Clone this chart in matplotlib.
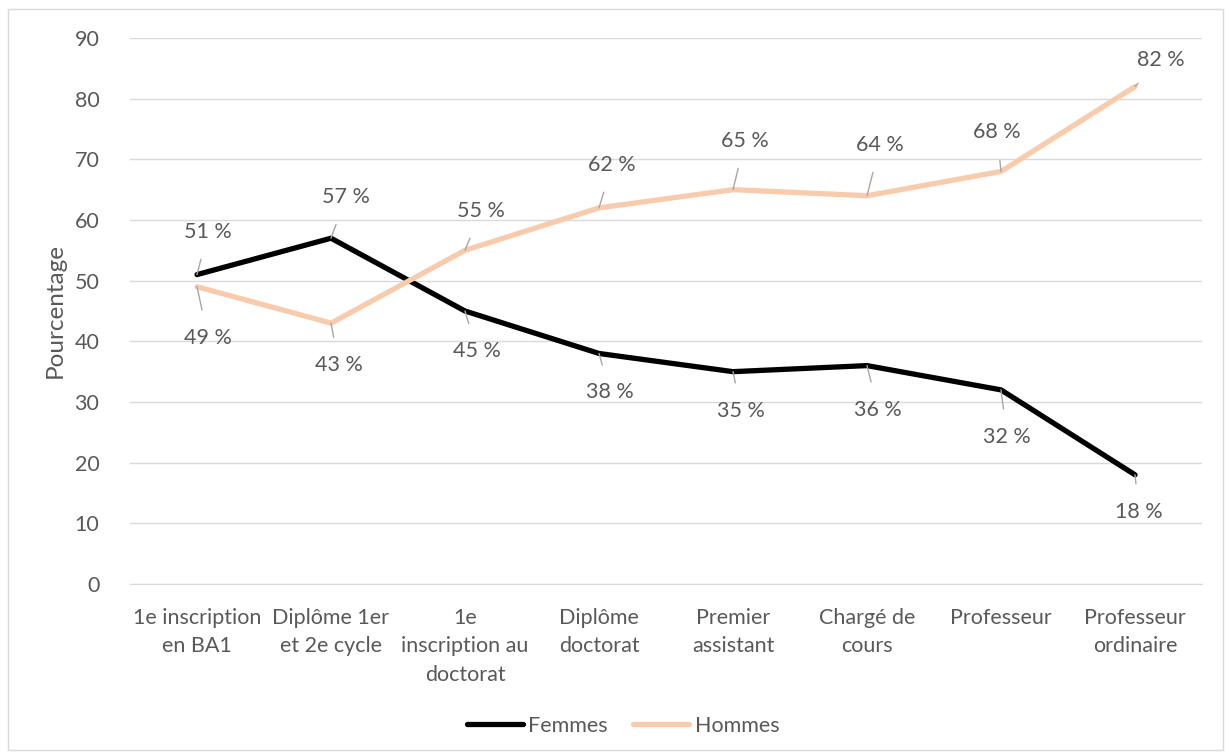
import matplotlib
matplotlib.use("Agg")
import matplotlib.pyplot as plt
from matplotlib.patches import Rectangle

categories = ["1e inscription\nen BA1", "Diplôme 1er\net 2e cycle", "1e\ninscription au\ndoctorat",
              "Diplôme\ndoctorat", "Premier\nassistant", "Chargé de\ncours", "Professeur",
              "Professeur\nordinaire"]
femmes = [51, 57, 45, 38, 35, 36, 32, 18]
hommes = [49, 43, 55, 62, 65, 64, 68, 82]
yticks = [0, 10, 20, 30, 40, 50, 60, 70, 80, 90]

# label offsets (pixels) relative to each point
femmes_off = [(11, 43), (15, 41), (12, -40), (11, -39), (8, -39), (11, -44), (6, -47), (4, -37)]
hommes_off = [(11, -51), (8, -42), (16, 39), (13, 43), (12, 49), (13, 51), (-4, 39), (26, 27)]

TXT = "#595959"
FS = 15.5
plt.rcParams["font.family"] = ["Lato", "DejaVu Sans"]

fig = plt.figure(figsize=(12.3, 7.55), dpi=100)
fig.patches.append(Rectangle((8 / 1230, 5 / 755), 1215 / 1230, 741 / 755, transform=fig.transFigure,
                             fill=False, edgecolor="#D9D9D9", linewidth=1))
ax = fig.add_axes([130 / 1230, 171 / 755, 1072 / 1230, 546 / 755])

x = list(range(len(categories)))
ax.plot(x, femmes, color="black", lw=3.8, label="Femmes", solid_capstyle="round", zorder=3)
ax.plot(x, hommes, color="#F8CBAD", lw=3.8, label="Hommes", solid_capstyle="round", zorder=3)

for series, offs in ((femmes, femmes_off), (hommes, hommes_off)):
    for xi, v, (dx, dy) in zip(x, series, offs):
        ax.annotate(f"{v} %", xy=(xi, v), xytext=(dx, dy), textcoords="offset pixels",
                    ha="center", va="center", fontsize=FS, color=TXT,
                    arrowprops=dict(arrowstyle="-", color="#A6A6A6", lw=1,
                                    shrinkA=11, shrinkB=0), zorder=4)

ax.set_xlim(-0.5, len(categories) - 0.5)
ax.set_ylim(0, 90)
ax.set_yticks(yticks)
ax.set_xticks(x)
ax.set_xticklabels(categories, linespacing=1.55)
ax.tick_params(axis="both", length=0, labelsize=FS, labelcolor=TXT)
ax.tick_params(axis="x", pad=17)
ax.tick_params(axis="y", pad=22)
ax.grid(axis="y", color="#D9D9D9", lw=1)
ax.set_axisbelow(True)
for s in ("top", "right", "left"):
    ax.spines[s].set_visible(False)
ax.spines["bottom"].set_color("#D9D9D9")
ax.set_ylabel("Pourcentage", fontsize=17.5, color=TXT, labelpad=6)

fig.legend(loc="center", bbox_to_anchor=(623 / 1230, 29 / 755), ncol=2, frameon=False,
           fontsize=FS, labelcolor=TXT, handlelength=2.6, handletextpad=0.25, columnspacing=1.2)

fig.savefig("out.png", dpi=100)
